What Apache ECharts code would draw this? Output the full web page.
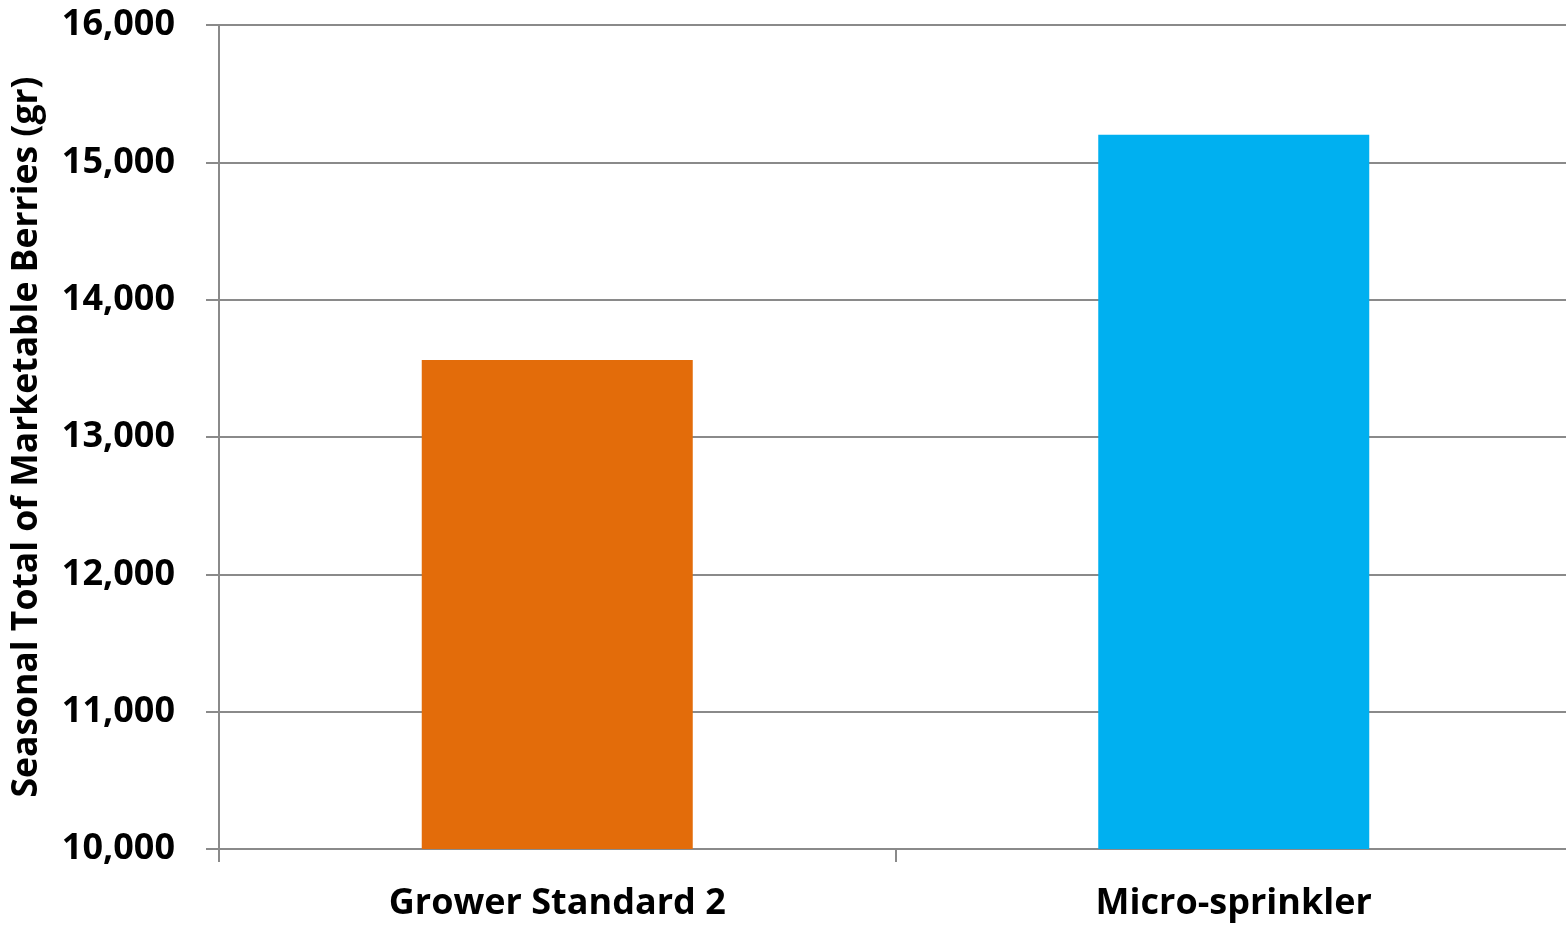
<!DOCTYPE html>
<html>
<head>
<meta charset="utf-8">
<script src="https://cdn.jsdelivr.net/npm/echarts@6/dist/echarts.min.js"></script>
<style>
  html, body { margin: 0; padding: 0; background: #fff; }
  #chart { width: 1566px; height: 926px; }
</style>
</head>
<body>
<div id="chart"></div>
<script>
const categories = ['Grower Standard 2', 'Micro-sprinkler'];
const marketableTotals = [13560, 15200];
const barColors = ['#E36C0A', '#00B0F0'];
const yTicks = { min: 10000, max: 16000, interval: 1000 };

const FONT = '"Open Sans", Lato, sans-serif';
const AXIS_GRAY = '#8a8a8a';

const chart = echarts.init(document.getElementById('chart'), null, { renderer: 'canvas' });

chart.setOption({
  animation: false,
  backgroundColor: '#ffffff',
  grid: {
    left: 219, right: -6, top: 25, bottom: 77,
    containLabel: false,
    outerBoundsMode: 'none'
  },
  xAxis: {
    type: 'category',
    data: categories,
    axisLine: { show: true, lineStyle: { color: AXIS_GRAY, width: 2 } },
    axisTick: { show: true, length: 13, lineStyle: { color: AXIS_GRAY, width: 2 } },
    axisLabel: {
      margin: 37,
      color: '#000',
      fontFamily: FONT,
      fontWeight: 'bold',
      fontSize: 36
    }
  },
  yAxis: {
    type: 'value',
    min: yTicks.min,
    max: yTicks.max,
    interval: yTicks.interval,
    name: 'Seasonal Total of Marketable Berries (gr)',
    nameLocation: 'middle',
    nameGap: 174,
    nameTextStyle: {
      color: '#000',
      fontFamily: FONT,
      fontWeight: 'bold',
      fontSize: 35.5
    },
    axisLine: { show: true, lineStyle: { color: AXIS_GRAY, width: 2 } },
    axisTick: { show: true, length: 13, lineStyle: { color: AXIS_GRAY, width: 2 } },
    splitLine: { show: true, lineStyle: { color: AXIS_GRAY, width: 2 } },
    axisLabel: {
      margin: 44,
      color: '#000',
      fontFamily: FONT,
      fontWeight: 'bold',
      fontSize: 36,
      formatter: v => v.toLocaleString('en-US')
    }
  },
  series: [{
    type: 'bar',
    barWidth: 271,
    data: marketableTotals.map((v, i) => ({ value: v, itemStyle: { color: barColors[i] } }))
  }]
});
</script>
</body>
</html>
